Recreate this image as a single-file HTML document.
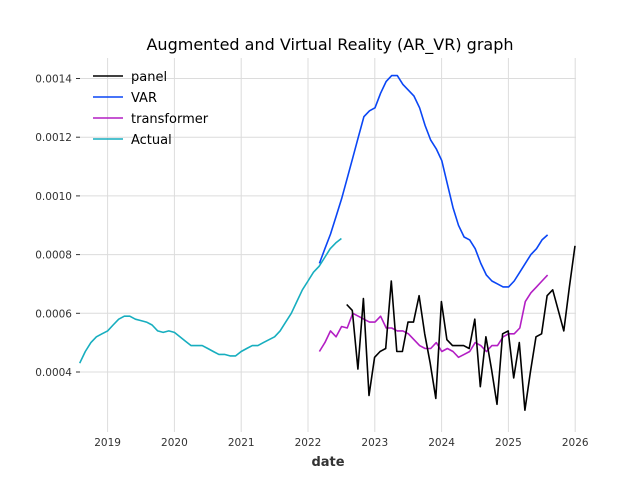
<!DOCTYPE html>
<html><head><meta charset="utf-8"><style>
body{margin:0;background:#fff}
svg{font-family:"DejaVu Sans","Liberation Sans",sans-serif}
</style></head><body>
<svg id="chart" width="640" height="480">
<text x="330" y="50" text-anchor="middle" font-size="16" fill="#000">Augmented and Virtual Reality (AR_VR) graph</text>
<g id="grid"></g><g id="series"></g><g id="ticks"></g>
<text x="328" y="466" text-anchor="middle" font-size="13" font-weight="bold" fill="#333">date</text>
<g id="legend"></g>
</svg>
<script>
const xTicks=[2019,2020,2021,2022,2023,2024,2025,2026];
const yTicks=[0.0004,0.0006,0.0008,0.0010,0.0012,0.0014];
const actualStart=2018.583;
const actualValues=[0.00043,0.00047,0.00050,0.00052,0.00053,0.00054,0.00056,0.00058,0.00059,0.00059,0.00058,0.000575,0.00057,0.00056,0.00054,0.000535,0.00054,0.000535,0.00052,0.000505,0.00049,0.00049,0.00049,0.00048,0.00047,0.00046,0.00046,0.000455,0.000455,0.00047,0.00048,0.00049,0.00049,0.0005,0.00051,0.00052,0.00054,0.00057,0.0006,0.00064,0.00068,0.00071,0.00074,0.00076,0.00079,0.00082,0.00084,0.000855];
const varStart=2022.17;
const varValues=[0.00077,0.00082,0.00087,0.00093,0.00099,0.00106,0.00113,0.00120,0.00127,0.00129,0.00130,0.00135,0.00139,0.00141,0.00141,0.00138,0.00136,0.00134,0.00130,0.00124,0.00119,0.00116,0.00112,0.00104,0.00096,0.00090,0.00086,0.00085,0.00082,0.00077,0.00073,0.00071,0.00070,0.00069,0.00069,0.00071,0.00074,0.00077,0.00080,0.00082,0.00085,0.000867];
const transStart=2022.17;
const transValues=[0.00047,0.00050,0.00054,0.00052,0.000555,0.00055,0.00060,0.00059,0.00058,0.00057,0.00057,0.00059,0.00055,0.00055,0.00054,0.00054,0.00053,0.00051,0.00049,0.00048,0.00048,0.00050,0.00047,0.00048,0.00047,0.00045,0.00046,0.00047,0.00050,0.00049,0.00047,0.00049,0.00049,0.00052,0.00053,0.00053,0.00055,0.00064,0.00067,0.00069,0.00071,0.00073];
const panelStart=2022.58;
const panelValues=[0.00063,0.00061,0.00041,0.00065,0.00032,0.00045,0.00047,0.00048,0.00071,0.00047,0.00047,0.00057,0.00057,0.00066,0.00053,0.00043,0.00031,0.00064,0.00051,0.00049,0.00049,0.00049,0.00048,0.00058,0.00035,0.00052,0.00041,0.00029,0.00053,0.00054,0.00038,0.00050,0.00027,0.00040,0.00052,0.00053,0.00066,0.00068,0.00061,0.00054,0.00069,0.00083];
const NS="http://www.w3.org/2000/svg";
const X=yr=>308+(yr-2022)*66.8;
const Y=v=>372-(v-0.0004)/0.0002*58.7;
function mk(tag,attrs,parent){const e=document.createElementNS(NS,tag);for(const k in attrs)e.setAttribute(k,attrs[k]);parent.appendChild(e);return e;}
const grid=document.getElementById('grid'),ticks=document.getElementById('ticks'),ser=document.getElementById('series'),leg=document.getElementById('legend');
xTicks.forEach(t=>{const l=mk('line',{x1:X(t),x2:X(t),y1:58,y2:432,stroke:'#dcdcdc','stroke-width':1},grid);


const tx=mk('text',{x:X(t),y:446,'text-anchor':'middle','font-size':10.5,fill:'#333'},ticks);tx.textContent=t;

});
yTicks.forEach(t=>{const l=mk('line',{x1:80,x2:576,y1:Y(t),y2:Y(t),stroke:'#dcdcdc','stroke-width':1},grid);


const tm=mk('line',{x1:76,x2:80,y1:Y(t),y2:Y(t),stroke:'#333','stroke-width':1},ticks);


const tx=mk('text',{x:72,y:Y(t)+4,'text-anchor':'end','font-size':10.5,fill:'#333'},ticks);tx.textContent=t.toFixed(4);

});
function line(start,vals,color,name){const pts=vals.map((v,i)=>X(start+i/12).toFixed(1)+','+Y(v).toFixed(1)).join(' ');
const p=mk('polyline',{points:pts,fill:'none',stroke:color,'stroke-width':1.6,'stroke-linejoin':'round'},ser);

}
line(actualStart,actualValues,'#17aebf','actual-line');
line(varStart,varValues,'#0a46f5','var-line');
line(transStart,transValues,'#b31fc4','transformer-line');
line(panelStart,panelValues,'#000','panel-line');
[['panel','#000'],['VAR','#0a46f5'],['transformer','#b31fc4'],['Actual','#17aebf']].forEach((d,i)=>{const y=76+i*21;
const g=mk('g',{},leg);


mk('line',{x1:93,x2:123,y1:y,y2:y,stroke:d[1],'stroke-width':1.6},g);
const t=mk('text',{x:131,y:y+5,'font-size':13,fill:'#000'},g);t.textContent=d[0];});
</script>
</body></html>
